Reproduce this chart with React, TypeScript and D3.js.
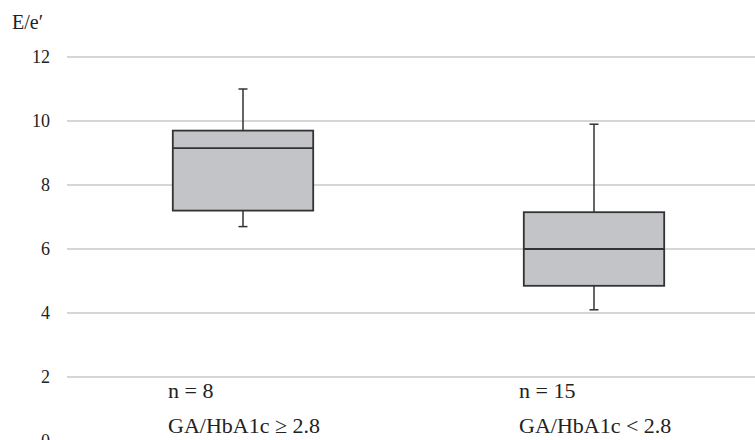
import * as d3 from "d3";

const groups = ["GA/HbA1c ≥ 2.8", "GA/HbA1c < 2.8"];
const counts = [8, 15];
const lowWhisker = [6.7, 4.1];
const q1 = [7.2, 4.85];
const median = [9.15, 6.0];
const q3 = [9.7, 7.15];
const highWhisker = [11.0, 9.9];
const yTicks = [0, 2, 4, 6, 8, 10, 12];

const width = 755;
const height = 440;
const serif = "'Liberation Serif', 'Times New Roman', serif";

export default function App() {
  const y = d3.scaleLinear().domain([0, 12]).range([441, 57]);
  const x = d3.scaleBand().domain(groups).range([67.5, 769.5]).padding(0);
  const boxW = x.bandwidth() * 0.4;
  const capW = 9;

  return (
    <svg
      width={width}
      height={height}
      style={{ position: "absolute", left: 0, top: 0, background: "#fff", fontFamily: serif }}
    >
      {/* gridlines + tick labels */}
      {yTicks.map((t) => (
        <g key={t}>
          <line x1={67} x2={width} y1={y(t)} y2={y(t)} stroke="#c8c8c8" strokeWidth={1.5} />
          <text x={50} y={y(t)} dy="0.35em" textAnchor="end" fontSize={18} fill="#222">
            {t}
          </text>
        </g>
      ))}

      <text x={12} y={29} fontSize={20} fill="#222">
        E/e′
      </text>

      {groups.map((g, i) => {
        const cx = x(g)! + x.bandwidth() / 2;
        return (
          <g key={g}>
            <line x1={cx} x2={cx} y1={y(lowWhisker[i])} y2={y(q1[i])} stroke="#333" strokeWidth={1.5} />
            <line x1={cx} x2={cx} y1={y(q3[i])} y2={y(highWhisker[i])} stroke="#333" strokeWidth={1.5} />
            <line x1={cx - capW / 2} x2={cx + capW / 2} y1={y(lowWhisker[i])} y2={y(lowWhisker[i])} stroke="#333" strokeWidth={1.5} />
            <line x1={cx - capW / 2} x2={cx + capW / 2} y1={y(highWhisker[i])} y2={y(highWhisker[i])} stroke="#333" strokeWidth={1.5} />
            <rect
              x={cx - boxW / 2}
              y={y(q3[i])}
              width={boxW}
              height={y(q1[i]) - y(q3[i])}
              fill="#c3c4c7"
              stroke="#333"
              strokeWidth={1.8}
            />
            <line x1={cx - boxW / 2} x2={cx + boxW / 2} y1={y(median[i])} y2={y(median[i])} stroke="#333" strokeWidth={1.8} />
            <text x={cx - 75} y={398} fontSize={22} fill="#222">
              {`n = ${counts[i]}`}
            </text>
            <text x={cx - 75} y={433} fontSize={22} fill="#222">
              {g}
            </text>
          </g>
        );
      })}
    </svg>
  );
}
